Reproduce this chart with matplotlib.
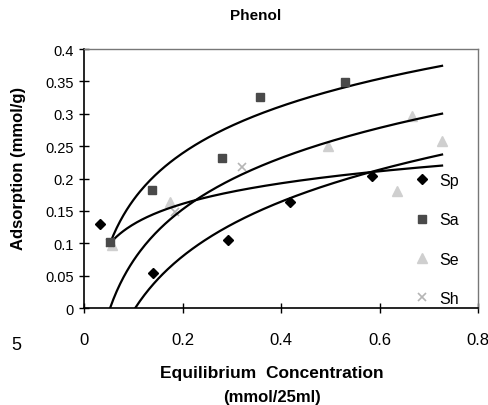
import numpy as np
import matplotlib
matplotlib.use("Agg")
import matplotlib.pyplot as plt

plt.rcParams["font.family"] = ["Liberation Sans", "DejaVu Sans"]

# data (mmol/25ml, mmol/g)
sp_x = [0.032, 0.140, 0.292, 0.418, 0.585]
sp_y = [0.130, 0.054, 0.105, 0.164, 0.204]
sa_x = [0.053, 0.138, 0.280, 0.357, 0.530]
sa_y = [0.102, 0.182, 0.232, 0.326, 0.349]
se_x = [0.057, 0.175, 0.495, 0.636, 0.666, 0.727]
se_y = [0.097, 0.164, 0.250, 0.181, 0.297, 0.258]
sh_x = [0.053, 0.185, 0.321]
sh_y = [0.100, 0.148, 0.218]

# log trendlines y = a + b*ln(x), with x range
trend_a = [0.4074, 0.3367, 0.2346, 0.2759]
trend_b = [0.1046, 0.1146, 0.0458, 0.1219]
trend_x0 = [0.053, 0.053, 0.053, 0.104]
trend_x1 = [0.727, 0.727, 0.727, 0.727]

fig = plt.figure(figsize=(4.89, 4.06), dpi=100)
ax = fig.add_axes([0.1718, 0.2389, 0.8057, 0.6379])

for a, b, x0, x1 in zip(trend_a, trend_b, trend_x0, trend_x1):
    xs = np.linspace(x0, x1, 200)
    ax.plot(xs, a + b * np.log(xs), color="black", lw=1.6, zorder=3)

ax.plot(se_x, se_y, ls="none", marker="^", ms=7, color="#cfcfcf", label="Se", zorder=2)
ax.plot(sh_x, sh_y, ls="none", marker="x", ms=6, mew=1.2, color="#b5b5b5", label="Sh", zorder=2)
ax.plot(sa_x, sa_y, ls="none", marker="s", ms=6, color="#4a4a4a", label="Sa", zorder=4)
ax.plot(sp_x, sp_y, ls="none", marker="D", ms=5.5, color="black", label="Sp", zorder=4)

ax.set_xlim(0, 0.8)
ax.set_ylim(0, 0.4)
ax.set_xticks([0, 0.2, 0.4, 0.6, 0.8])
ax.set_xticklabels(["0", "0.2", "0.4", "0.6", "0.8"], fontsize=12)
ax.set_yticks(np.arange(0, 0.41, 0.05))
ax.set_yticklabels(["0", "0.05", "0.1", "0.15", "0.2", "0.25", "0.3", "0.35", "0.4"], fontsize=10.5)
ax.tick_params(direction="inout", length=7, width=1, color="black")
ax.tick_params(axis="x", pad=14)
ax.tick_params(axis="y", pad=4)

for s in ["left", "bottom"]:
    ax.spines[s].set_color("black")
    ax.spines[s].set_linewidth(1.2)
for s in ["top", "right"]:
    ax.spines[s].set_color("#777777")
    ax.spines[s].set_linewidth(1.0)

handles, labels = ax.get_legend_handles_labels()
order = [3, 2, 0, 1]
ax.legend([handles[i] for i in order], [labels[i] for i in order],
          loc="center left", bbox_to_anchor=(0.80, 0.265), frameon=False,
          fontsize=11.5, labelspacing=1.52, handletextpad=0.6, handlelength=1.0)

fig.text(0.522, 0.960, "Phenol", ha="center", va="center", fontsize=11, fontweight="bold")
fig.text(0.556, 0.081, "Equilibrium  Concentration", ha="center", va="center",
         fontsize=12.5, fontweight="bold")
fig.text(0.556, 0.020, "(mmol/25ml)", ha="center", va="center", fontsize=12, fontweight="bold")
fig.text(0.037, 0.585, "Adsorption (mmol/g)", ha="center", va="center", rotation=90,
         fontsize=12, fontweight="bold")
fig.text(0.033, 0.150, "5", ha="center", va="center", fontsize=13)

fig.savefig("out.png", dpi=100)
